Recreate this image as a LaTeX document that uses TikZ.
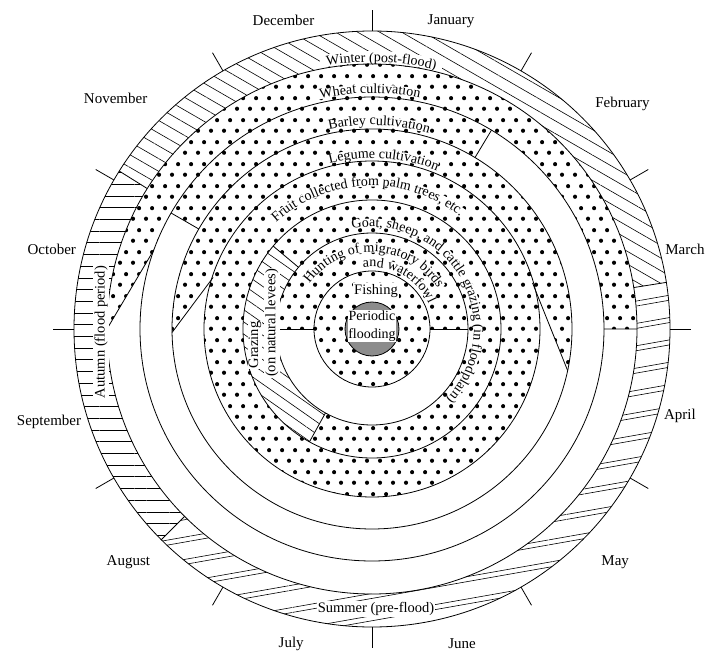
\documentclass[tikz,border=0pt]{standalone}
\usepackage{fontspec}
\setmainfont{Liberation Serif}
\usetikzlibrary{patterns,patterns.meta,decorations.text}

\tikzdeclarepattern{
  name=bigdots,
  type=uncolored,
  bottom left={(0pt,0pt)},
  top right={(13pt,22pt)},
  tile size={(13pt,22pt)},
  code={
    \fill (3.25pt,5.5pt) circle (2.2pt);
    \fill (9.75pt,16.5pt) circle (2.2pt);
  }
}

\newcommand{\ringfont}{\fontsize{14}{16}\selectfont}
% ring sector: inner radius, outer radius, start angle, end angle
\newcommand{\ringseg}[4]{(#3:#2) arc[start angle=#3, end angle=#4, radius=#2] -- (#4:#1) arc[start angle=#4, end angle=#3, radius=#1] -- cycle}
% text on a ring: radius, start angle, end angle, text
\newcommand{\ringlabel}[4]{\path[decorate, decoration={text along path, text align=center, text={|\ringfont|#4}}] (#2:#1) arc[start angle=#2, end angle=#3, radius=#1];}

\tikzset{
  ring/.style={line width=0.8pt},
  dotband/.style={pattern=bigdots},
  winterhatch/.style={pattern={Lines[angle=150,distance=11pt,line width=0.6pt]}},
  autumnhatch/.style={pattern={Lines[angle=0,distance=11.7pt,line width=0.6pt]}},
  summerhatch/.style={preaction={pattern={Lines[angle=10,distance=22pt,line width=0.6pt]}},
    pattern={Lines[angle=10,distance=22pt,yshift=5pt,line width=0.6pt]}},
  leveehatch/.style={pattern={Lines[angle=145,distance=10pt,line width=0.6pt]}},
  labelbg/.style={draw=white, line width=9pt},
  month/.style={font=\fontsize{15}{17}\selectfont, inner sep=1pt},
  tag/.style={font=\fontsize{14.5}{17}\selectfont, fill=white, inner sep=1pt}
}

\begin{document}
\begin{tikzpicture}[x=1pt, y=1pt]
  \useasboundingbox (-372,-335) rectangle (348,329);

  % seasons
  \path[winterhatch] \ringseg{265}{298}{9}{148};
  \path[autumnhatch] \ringseg{265}{298}{148}{225};
  \path[summerhatch] \ringseg{265}{298}{225}{369};

  % crops
  \path[dotband] (180:265) arc[start angle=180, end angle=0, radius=265]
    -- (0:232) arc[start angle=0, end angle=160, radius=232] -- cycle;
  \path[dotband] \ringseg{200}{232}{59}{150};
  \path[dotband] (181:200) arc[start angle=181, end angle=-12, radius=200]
    -- (16:167) arc[start angle=16, end angle=162, radius=167] -- cycle;
  \path[dotband, even odd rule] (0,0) circle (168) (0,0) circle (129);

  % herding, hunting, fishing
  \path[dotband] \ringseg{96}{129}{-119}{140};
  \path[leveehatch] \ringseg{96}{129}{140}{241};
  \path[dotband] \ringseg{58}{96}{0}{180};
  \path[dotband, even odd rule] (0,0) circle (58) (0,0) circle (27);
  \fill[black!45] (0,0) circle (27);

  % room for the ring texts
  \draw[labelbg, line width=12pt] (101:272) arc[start angle=101, end angle=75, radius=272];
  \draw[labelbg] (103:240) arc[start angle=103, end angle=78, radius=240];
  \draw[labelbg] (102:208) arc[start angle=102, end angle=74, radius=208];
  \draw[labelbg] (104:175) arc[start angle=104, end angle=68, radius=175];
  \draw[labelbg] (134:147) arc[start angle=134, end angle=50, radius=147];
  \draw[labelbg] (101:106) arc[start angle=101, end angle=-43, radius=106];
  \draw[labelbg] (145:81) arc[start angle=145, end angle=31, radius=81];
  \draw[labelbg] (98:66) arc[start angle=98, end angle=24, radius=66];

  % rings and boundaries
  \foreach \r in {27,58,96,129,168,200,232,265,298}
    \draw[ring] (0,0) circle (\r);
  \draw[ring] (9:265) -- (9:298) (148:265) -- (148:298) (225:265) -- (225:298);
  \draw[ring] (160:232) -- (180:265) (0:232) -- (0:265);
  \draw[ring] (59:200) -- (59:232) (150:200) -- (150:232);
  \draw[ring] (162:167) -- (181:200) (16:167) -- (-12:200);
  \draw[ring] (140:96) -- (140:129) (241:96) -- (241:129);
  \draw[ring] (180:96) -- (180:58) (0:58) -- (0:96);

  % month ticks and names
  \foreach \a in {0,30,...,330}
    \draw[ring] (\a:298) -- (\a:319);
  \foreach \m/\a/\r [count=\i] in {January/75.6/318, February/42/337, March/14.3/323,
      April/-15.8/320, May/-43.8/337, June/-74/327, July/-104.4/325, August/-136.3/337,
      September/-164/336, October/166/330, November/138/345, December/106/321}
    \node[month] (m\i) at (\a:\r) {\m};

  % ring texts
  \ringlabel{267}{118}{58}{Winter (post-flood)}
  \ringlabel{236}{120.5}{60.5}{Wheat cultivation}
  \ringlabel{204}{118}{58}{Barley cultivation}
  \ringlabel{171}{116}{56}{Legume cultivation}
  \ringlabel{143}{150}{34}{Fruit collected from palm trees, etc.}
  \ringlabel{102}{118}{-60}{Goat, sheep, and cattle grazing (in floodplain)}
  \ringlabel{77}{160}{16}{Hunting of migratory birds}
  \ringlabel{62}{110}{12}{and waterfowl}

  \node[tag, rotate=90] (autumn) at (-271,-3) {Autumn (flood period)};
  \node[tag] (summer) at (4,-280) {Summer (pre-flood)};
  \node[tag, rotate=90] (grazing) at (-117,-16) {Grazing};
  \node[tag, rotate=90] (levees) at (-100,6) {(on natural levees)};
  \node[tag] (fishing) at (4,38) {Fishing};
  \node[tag, align=center, inner sep=0.5pt, font=\fontsize{14}{18}\selectfont] (flood) at (0,3) {Periodic\\flooding};
\end{tikzpicture}
\end{document}
